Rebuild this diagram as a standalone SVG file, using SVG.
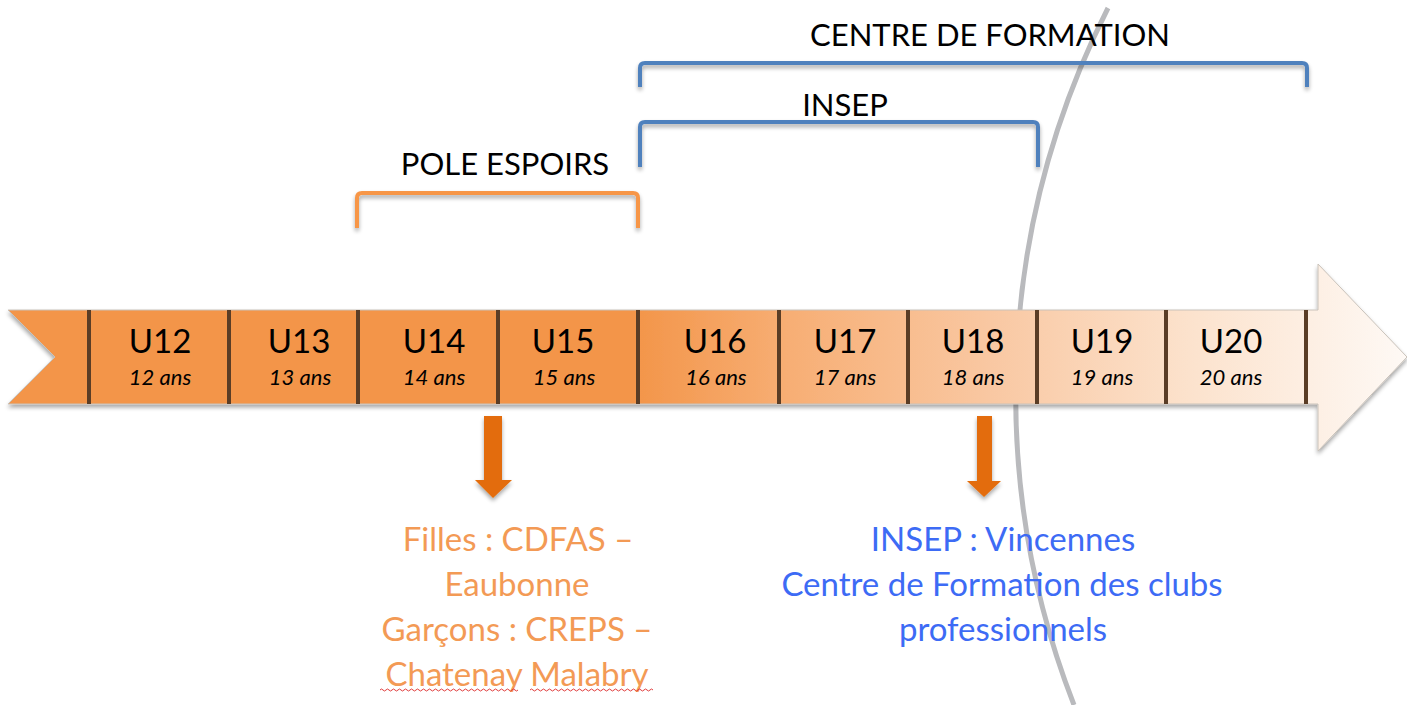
<svg xmlns="http://www.w3.org/2000/svg" width="1407" height="705" viewBox="0 0 1407 705">
<defs>
<linearGradient id="band" x1="0" y1="0" x2="1407" y2="0" gradientUnits="userSpaceOnUse">
<stop offset="0" stop-color="#F39549"/>
<stop offset="0.45" stop-color="#F39549"/>
<stop offset="0.56" stop-color="#F7AE74"/>
<stop offset="0.70" stop-color="#F9C7A1"/>
<stop offset="0.85" stop-color="#FCE3CE"/>
<stop offset="1" stop-color="#FEF9F5"/>
</linearGradient>
<filter id="sh" x="-5%" y="-20%" width="110%" height="150%">
<feGaussianBlur in="SourceAlpha" stdDeviation="2"/>
<feOffset dx="0" dy="3" result="b"/>
<feComponentTransfer><feFuncA type="linear" slope="0.35"/></feComponentTransfer>
<feMerge><feMergeNode/><feMergeNode in="SourceGraphic"/></feMerge>
</filter>
<style>
.lbl{font-family:Lato,"Liberation Sans",sans-serif;font-size:33px;fill:#000;text-anchor:middle}
.age{font-family:Lato,"Liberation Sans",sans-serif;font-size:22px;font-style:italic;fill:#000;text-anchor:middle}
.hd{font-family:Lato,"Liberation Sans",sans-serif;font-size:31px;fill:#000;text-anchor:middle}
.or{font-family:Lato,"Liberation Sans",sans-serif;font-size:33px;fill:#F39A55;text-anchor:middle}
.bl{font-family:Lato,"Liberation Sans",sans-serif;font-size:33px;fill:#3D6BF5;text-anchor:middle}
.div{stroke:#5A3E28;stroke-width:4}
.brk{fill:none;stroke-width:4;stroke-linejoin:round}
.darr{fill:#E36C0A}
</style>
</defs>
<rect width="1407" height="705" fill="#fff"/>
<path d="M1108,8 A856,856 0 0 0 1074,705" fill="none" stroke="#B9BABD" stroke-width="5"/>
<g id="timeline" filter="url(#sh)">
<path d="M8,310 L1318,310 L1318,264 L1407,357 L1318,451 L1318,404 L8,404 L55,357 Z" fill="url(#band)" stroke="#C9C2BA" stroke-width="1"/>
<g class="div">
<line x1="89" y1="310" x2="89" y2="404"/>
<line x1="229" y1="310" x2="229" y2="404"/>
<line x1="358" y1="310" x2="358" y2="404"/>
<line x1="498" y1="310" x2="498" y2="404"/>
<line x1="638" y1="310" x2="638" y2="404"/>
<line x1="779" y1="310" x2="779" y2="404"/>
<line x1="908" y1="310" x2="908" y2="404"/>
<line x1="1037" y1="310" x2="1037" y2="404"/>
<line x1="1166" y1="310" x2="1166" y2="404"/>
<line x1="1306" y1="310" x2="1306" y2="404"/>
</g>
</g>
<g id="u12"><text class="lbl" x="160" y="353">U12</text><text class="age" x="160" y="385">12 ans</text></g>
<g id="u13"><text class="lbl" x="299" y="353">U13</text><text class="age" x="300" y="385">13 ans</text></g>
<g id="u14"><text class="lbl" x="434" y="353">U14</text><text class="age" x="434" y="385">14 ans</text></g>
<g id="u15"><text class="lbl" x="563" y="353">U15</text><text class="age" x="564" y="385">15 ans</text></g>
<g id="u16"><text class="lbl" x="715" y="353">U16</text><text class="age" x="716" y="385">16 ans</text></g>
<g id="u17"><text class="lbl" x="845" y="353">U17</text><text class="age" x="845" y="385">17 ans</text></g>
<g id="u18"><text class="lbl" x="973" y="353">U18</text><text class="age" x="973" y="385">18 ans</text></g>
<g id="u19"><text class="lbl" x="1102" y="353">U19</text><text class="age" x="1102" y="385">19 ans</text></g>
<g id="u20"><text class="lbl" x="1231" y="353">U20</text><text class="age" x="1231" y="385">20 ans</text></g>
<g id="connectors" filter="url(#sh)">
<path class="brk" stroke="#F79646" d="M357,228 L357,198 Q357,193 362,193 L633,193 Q638,193 638,198 L638,228"/>
<path class="brk" stroke="#4F81BD" d="M640,167 L640,127 Q640,122 645,122 L1033,122 Q1038,122 1038,127 L1038,167"/>
<path class="brk" stroke="#4F81BD" d="M640,87 L640,68 Q640,63 645,63 L1302,63 Q1307,63 1307,68 L1307,87"/>
<path class="darr" d="M484,416 L502,416 L502,480 L512,480 L493,498 L475,480 L484,480 Z"/>
<path class="darr" d="M977,416 L992,416 L992,481 L1001,481 L984,497 L967,481 L977,481 Z"/>
</g>
<g id="pole"><text class="hd" x="505" y="175">POLE ESPOIRS</text></g>
<g id="insep"><text class="hd" x="845" y="116">INSEP</text></g>
<g id="centre"><text class="hd" x="990" y="46">CENTRE DE FORMATION</text></g>
<g id="filles">
<text class="or" x="518" y="551">Filles : CDFAS –</text>
<text class="or" x="517" y="596">Eaubonne</text>
<text class="or" x="517" y="641">Garçons : CREPS –</text>
<text class="or" x="517" y="686">Chatenay Malabry</text>
<path d="M380,690 q1.5,-2 3,0 t3,0 t3,0 t3,0 t3,0 t3,0 t3,0 t3,0 t3,0 t3,0 t3,0 t3,0 t3,0 t3,0 t3,0 t3,0 t3,0 t3,0 t3,0 t3,0 t3,0 t3,0 t3,0 t3,0 t3,0 t3,0 t3,0 t3,0 t3,0 t3,0 t3,0 t3,0 t3,0 t3,0 t3,0 t3,0 t3,0 t3,0 t3,0 t3,0 t3,0 t3,0 t3,0 t3,0 t3,0 t3,0" fill="none" stroke="#E03C3C" stroke-width="1"/>
<path d="M530,690 q1.5,-2 3,0 t3,0 t3,0 t3,0 t3,0 t3,0 t3,0 t3,0 t3,0 t3,0 t3,0 t3,0 t3,0 t3,0 t3,0 t3,0 t3,0 t3,0 t3,0 t3,0 t3,0 t3,0 t3,0 t3,0 t3,0 t3,0 t3,0 t3,0 t3,0 t3,0 t3,0 t3,0 t3,0 t3,0 t3,0 t3,0 t3,0 t3,0 t3,0 t3,0 t3,0" fill="none" stroke="#E03C3C" stroke-width="1"/>
</g>
<g id="pro">
<text class="bl" x="1003" y="551">INSEP : Vincennes</text>
<text class="bl" x="1002" y="596">Centre de Formation des clubs</text>
<text class="bl" x="1003" y="641">professionnels</text>
</g>
</svg>
